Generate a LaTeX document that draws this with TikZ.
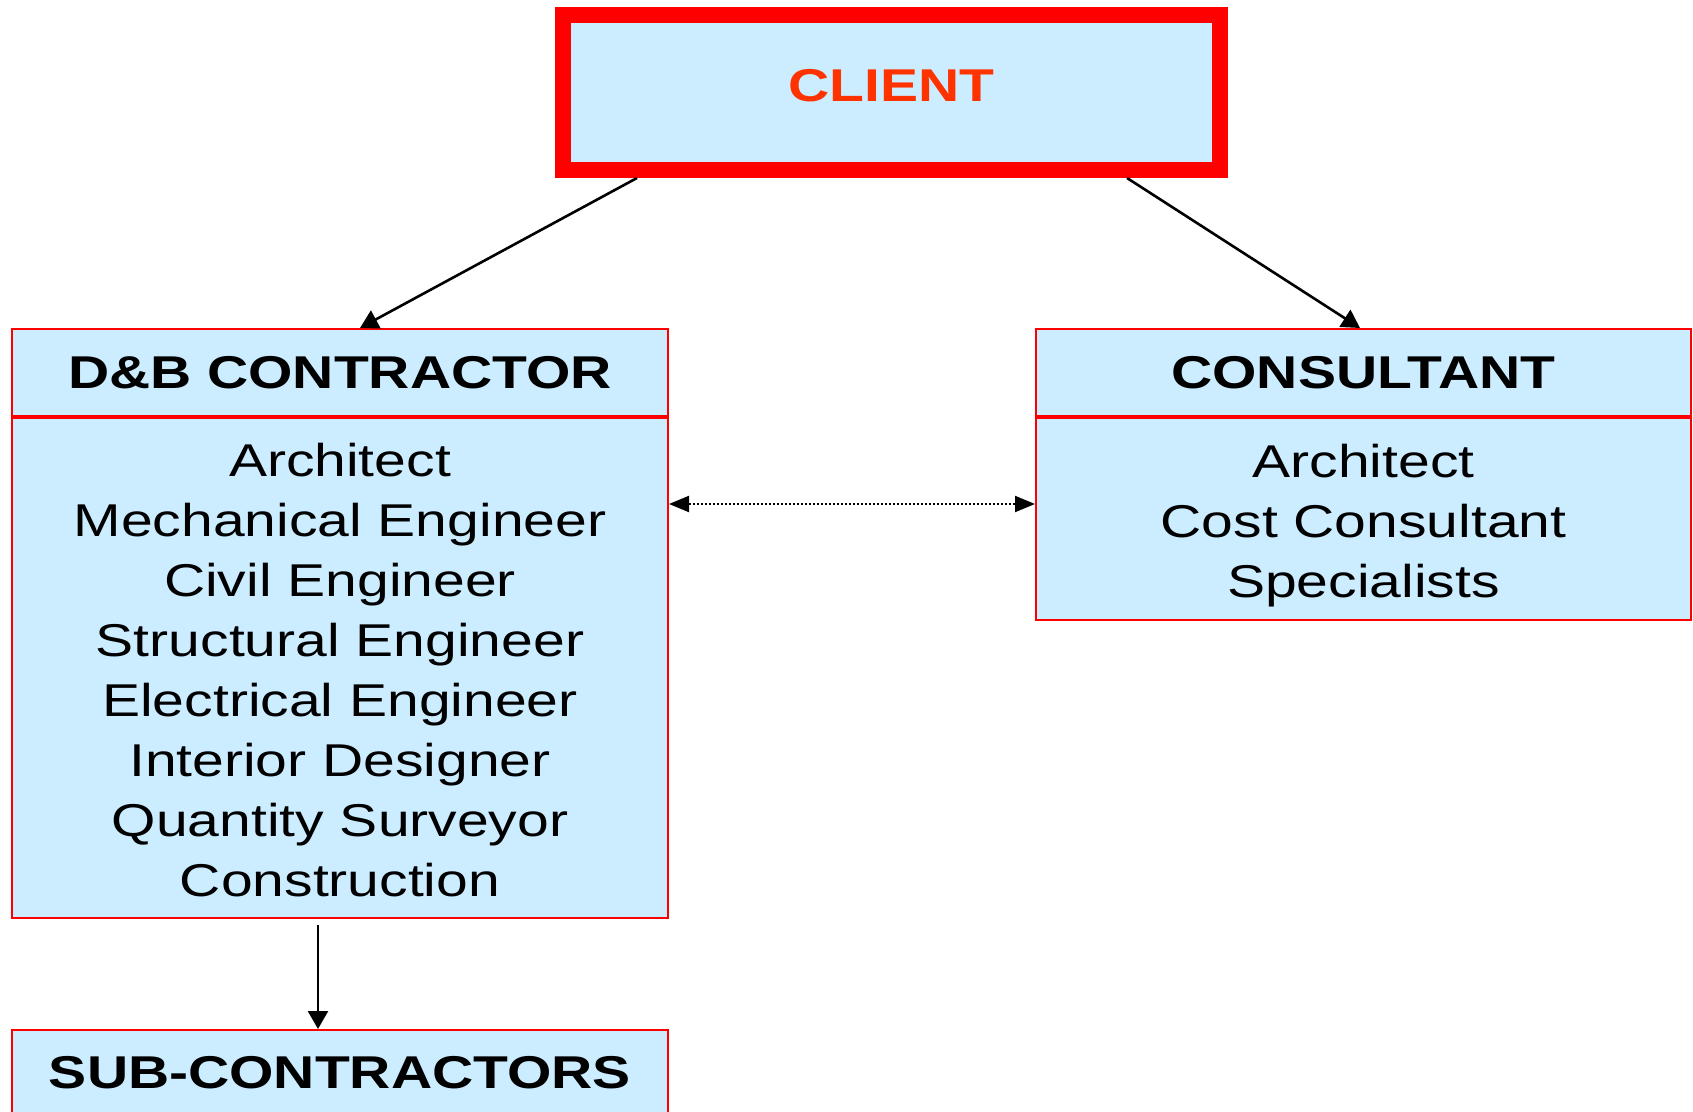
\documentclass[tikz,border=0pt]{standalone}
\usepackage{fontspec}
\newfontfamily\dfont[FakeStretch=1.24]{Liberation Sans}
\usetikzlibrary{arrows.meta}
\definecolor{boxfill}{HTML}{CCECFF}
\definecolor{boxred}{HTML}{FF0000}
\definecolor{clienttxt}{HTML}{FF3300}
\begin{document}
\begin{tikzpicture}[x=0.5pt,y=-0.5pt,
  box/.style={draw=boxred,line width=1pt,fill=boxfill,inner sep=0pt,align=center,
    font=\dfont\fontsize{23pt}{30pt}\selectfont},
  head/.style={box,font=\dfont\bfseries\fontsize{23pt}{30pt}\selectfont,
    text height=16.5pt,text depth=0pt},
  conn/.style={draw=black,line width=1.3pt,-{Triangle[length=9pt,width=10pt]}},
  dots/.style={draw=black,line width=1pt,dash pattern=on 1pt off 1pt,
    {Triangle[length=10pt,width=8pt]}-{Triangle[length=10pt,width=8pt]}}
]
\useasboundingbox (0,0) rectangle (1693,1112);
\fill[white] (0,0) rectangle (1693,1112);
% client
\node[head, line width=8pt, minimum width=328.5pt, minimum height=77.5pt,
  text=clienttxt, text depth=7.5pt] (client) at (891.5,92.5) {CLIENT};
% D&B contractor
\node[head, minimum width=328pt, minimum height=43.5pt] (dbh) at (340,372.5) {D\&B CONTRACTOR};
\node[box, minimum width=328pt, minimum height=251pt] (dbb) at (340,667)
  {\rule{0pt}{20pt}Architect\\Mechanical Engineer\\Civil Engineer\\Structural Engineer\\Electrical Engineer\\Interior Designer\\Quantity Surveyor\\Construction};
\draw[boxred,line width=2pt] (dbh.south west) -- (dbh.south east);
% consultant
\node[head, minimum width=327.5pt, minimum height=43.5pt] (conh) at (1363.5,372.5) {CONSULTANT};
\node[box, minimum width=327.5pt, minimum height=102pt] (conb) at (1363.5,518)
  {\rule{0pt}{23.85pt}Architect\\Cost Consultant\\Specialists};
\draw[boxred,line width=2pt] (conh.south west) -- (conh.south east);
% sub-contractors
\node[head, minimum width=328pt, minimum height=45pt, text depth=3.5pt] (sub) at (340,1075) {SUB-CONTRACTORS};
% connectors
\draw[conn] ([xshift=-127.25pt]client.south) -- ([xshift=10pt]dbh.north);
\draw[conn] ([xshift=117.75pt]client.south) -- ([xshift=-1.75pt]conh.north);
\coordinate (m) at ([yshift=7pt]conb.west);
\draw[dots] (m -| dbb.east) -- (m);
\draw[conn] ([xshift=-11pt,yshift=-3pt]dbb.south) -- ([xshift=-11pt]sub.north);
\end{tikzpicture}
\end{document}
